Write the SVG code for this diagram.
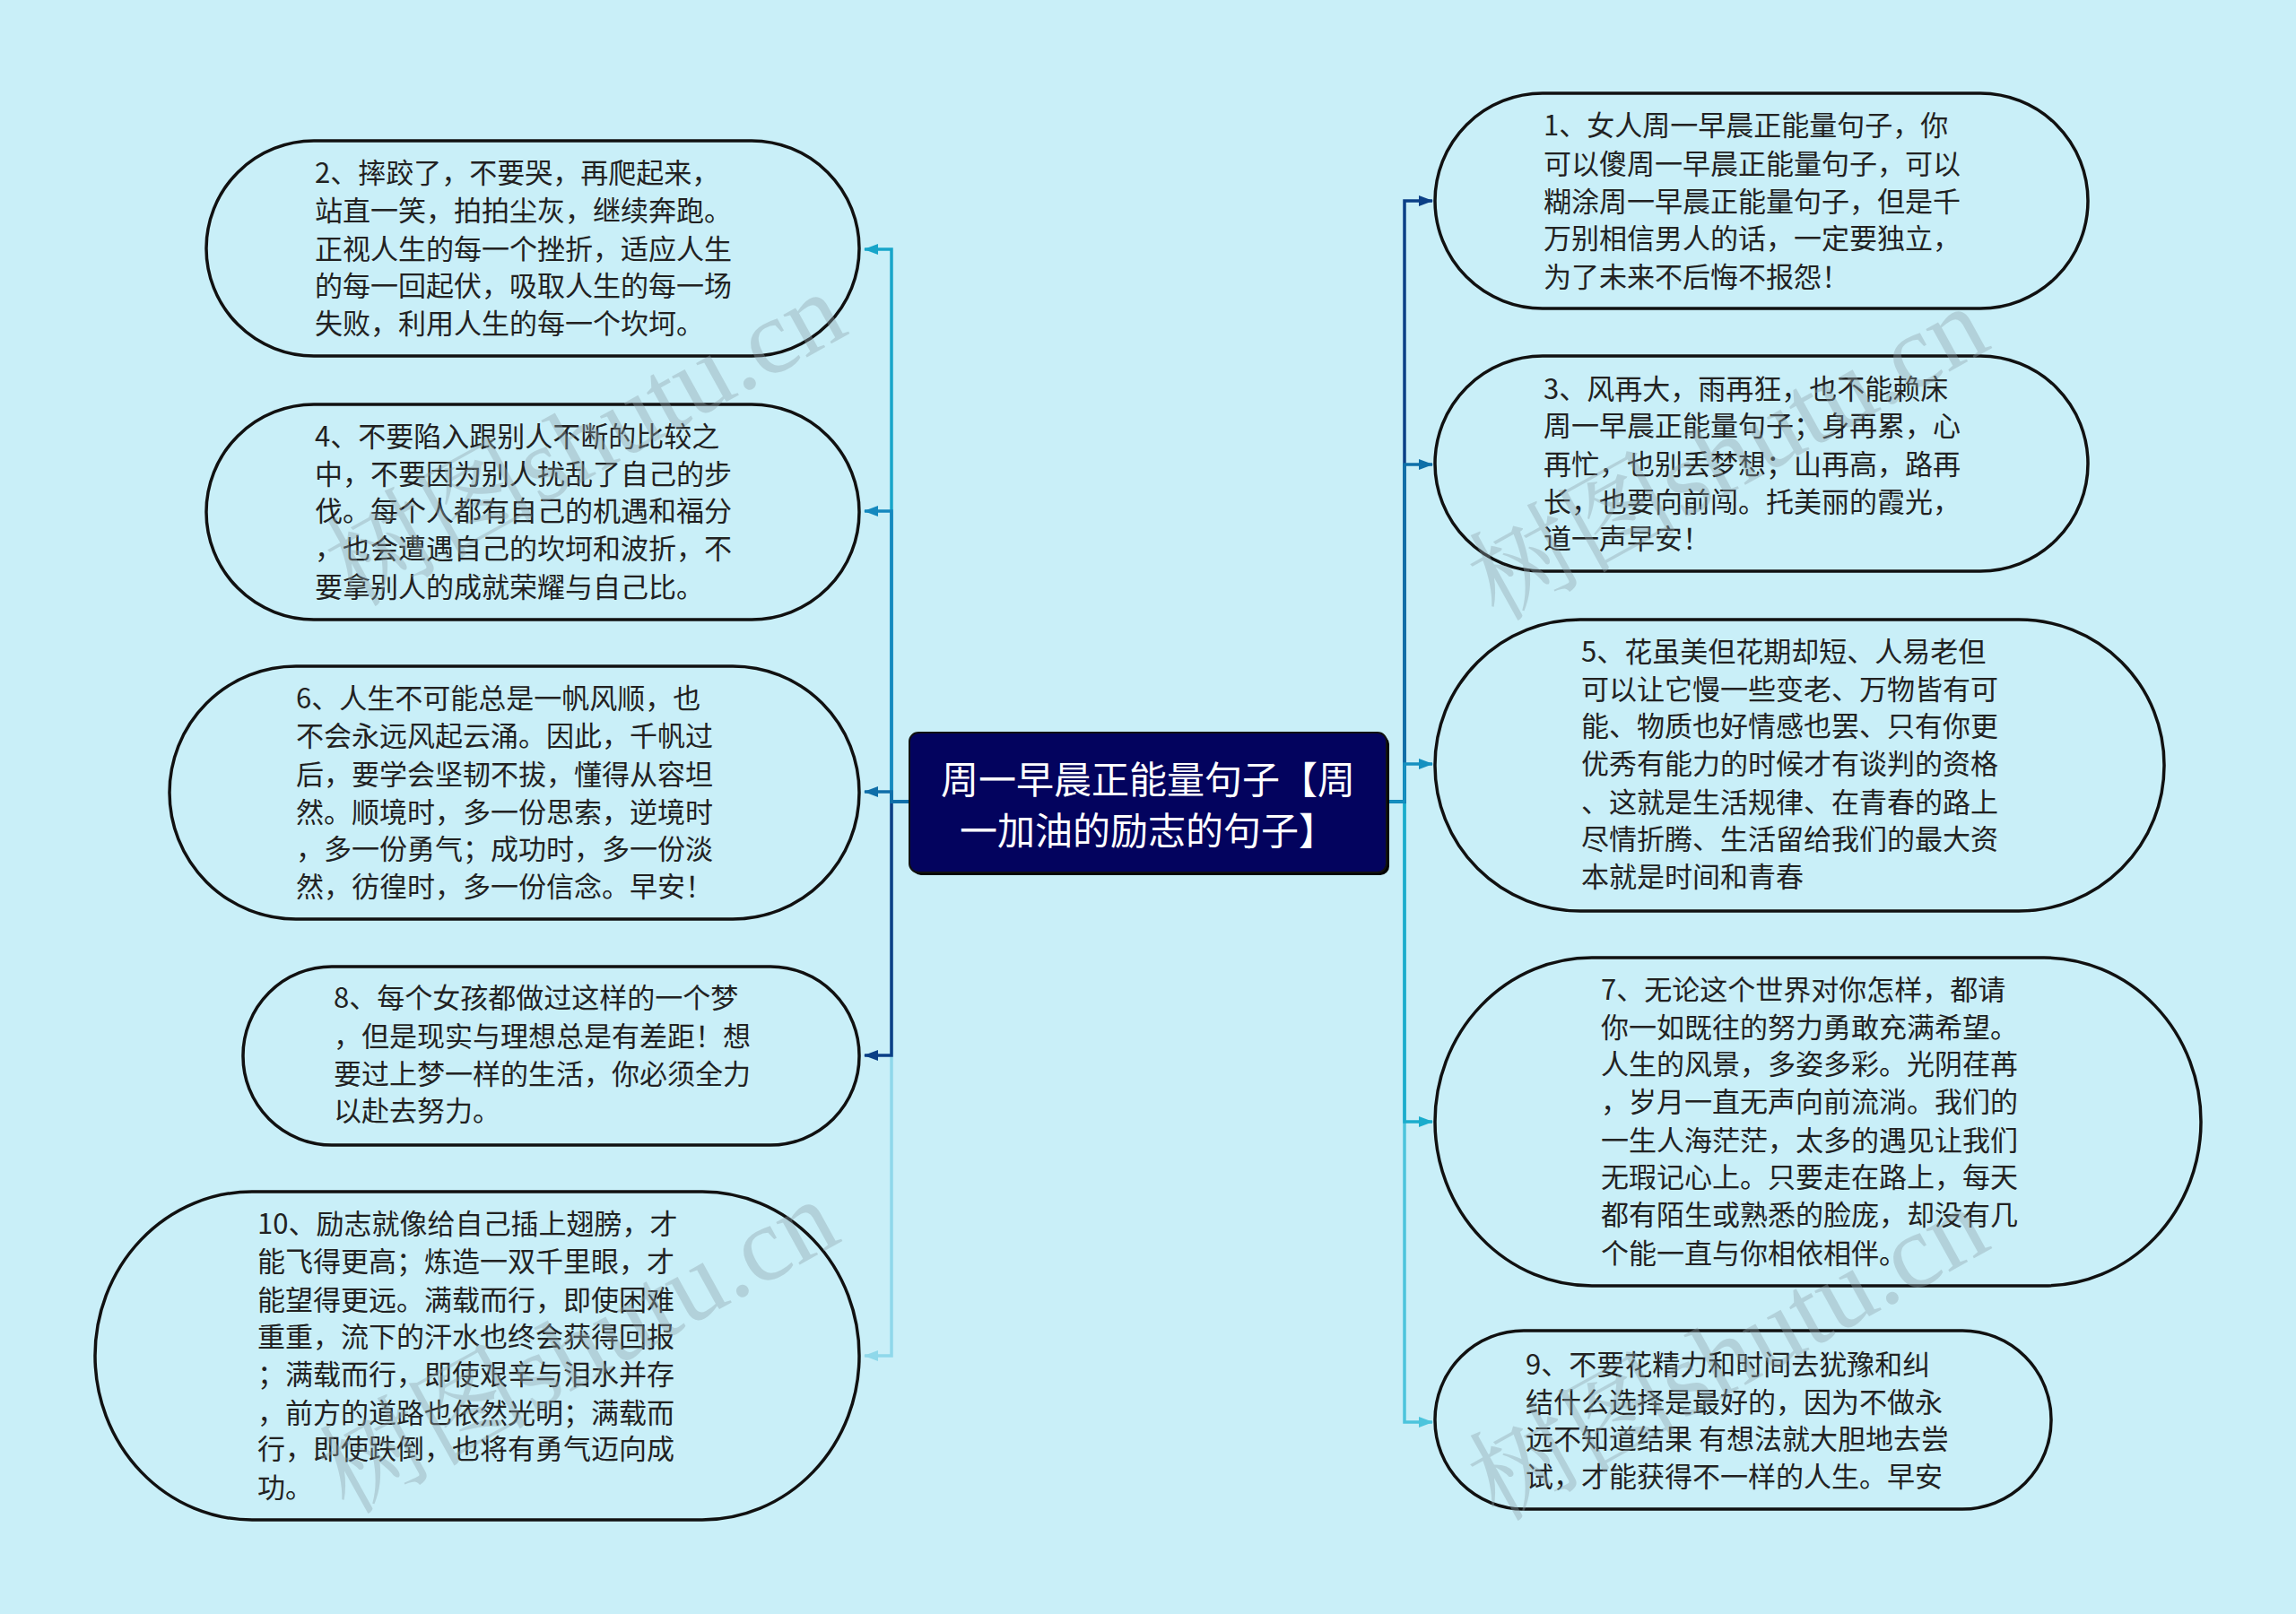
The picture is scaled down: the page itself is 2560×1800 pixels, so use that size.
<svg xmlns="http://www.w3.org/2000/svg" width="2560" height="1800" viewBox="0 0 2560 1800">
<defs>
<style>
.node{fill:#C9EFF8;stroke:#111;stroke-width:3.5}
.t{font-family:"Noto Sans CJK SC","Noto Sans",sans-serif;font-size:31px;fill:#222222;dominant-baseline:central}
.ct{font-family:"Noto Sans CJK SC","Noto Sans",sans-serif;font-size:42px;fill:#ffffff;dominant-baseline:central;text-anchor:middle}
.c{fill:none;stroke-width:3.5}
.wm{font-family:"Liberation Serif","Noto Serif CJK SC","Noto Sans CJK SC",serif;font-size:118px;fill:#8FA3AA;opacity:0.38}
</style>
<marker id="a1" markerWidth="16" markerHeight="12" refX="15" refY="6" orient="auto" markerUnits="userSpaceOnUse"><path d="M0,0 L16,6 L0,12 z" fill="#0B3F86"/></marker>
<marker id="a3" markerWidth="16" markerHeight="12" refX="15" refY="6" orient="auto" markerUnits="userSpaceOnUse"><path d="M0,0 L16,6 L0,12 z" fill="#0E6FA8"/></marker>
<marker id="a5" markerWidth="16" markerHeight="12" refX="15" refY="6" orient="auto" markerUnits="userSpaceOnUse"><path d="M0,0 L16,6 L0,12 z" fill="#1590C0"/></marker>
<marker id="a7" markerWidth="16" markerHeight="12" refX="15" refY="6" orient="auto" markerUnits="userSpaceOnUse"><path d="M0,0 L16,6 L0,12 z" fill="#1AACCC"/></marker>
<marker id="a9" markerWidth="16" markerHeight="12" refX="15" refY="6" orient="auto" markerUnits="userSpaceOnUse"><path d="M0,0 L16,6 L0,12 z" fill="#4CC4DC"/></marker>
<marker id="a2" markerWidth="16" markerHeight="12" refX="15" refY="6" orient="auto" markerUnits="userSpaceOnUse"><path d="M0,0 L16,6 L0,12 z" fill="#17A5C9"/></marker>
<marker id="a4" markerWidth="16" markerHeight="12" refX="15" refY="6" orient="auto" markerUnits="userSpaceOnUse"><path d="M0,0 L16,6 L0,12 z" fill="#1488BE"/></marker>
<marker id="a6" markerWidth="16" markerHeight="12" refX="15" refY="6" orient="auto" markerUnits="userSpaceOnUse"><path d="M0,0 L16,6 L0,12 z" fill="#0F6EA8"/></marker>
<marker id="a8" markerWidth="16" markerHeight="12" refX="15" refY="6" orient="auto" markerUnits="userSpaceOnUse"><path d="M0,0 L16,6 L0,12 z" fill="#0B3F86"/></marker>
<marker id="a10" markerWidth="16" markerHeight="12" refX="15" refY="6" orient="auto" markerUnits="userSpaceOnUse"><path d="M0,0 L16,6 L0,12 z" fill="#8FD8EA"/></marker>
</defs>
<rect x="0" y="0" width="2560" height="1800" fill="#C9EFF8"/>

<g id="connectors">
<path class="c" stroke="#8FD8EA" d="M1014,894 H994 V1512 H964" marker-end="url(#a10)"/>
<path class="c" stroke="#0B3F86" d="M1014,894 H994 V1177 H964" marker-end="url(#a8)"/>
<path class="c" stroke="#17A5C9" d="M1014,894 H994 V278 H964" marker-end="url(#a2)"/>
<path class="c" stroke="#1488BE" d="M1014,894 H994 V570 H964" marker-end="url(#a4)"/>
<path class="c" stroke="#0F6EA8" d="M1014,894 H994 V883 H964" marker-end="url(#a6)"/>
<path class="c" stroke="#4CC4DC" d="M1546,894 H1566 V1586 H1597" marker-end="url(#a9)"/>
<path class="c" stroke="#1AACCC" d="M1546,894 H1566 V1251 H1597" marker-end="url(#a7)"/>
<path class="c" stroke="#0B3F86" d="M1546,894 H1566 V224 H1597" marker-end="url(#a1)"/>
<path class="c" stroke="#0E6FA8" d="M1546,894 H1566 V518 H1597" marker-end="url(#a3)"/>
<path class="c" stroke="#1590C0" d="M1546,894 H1566 V852 H1597" marker-end="url(#a5)"/>
</g>

<g id="center">
<rect x="1017" y="820" width="532" height="156" rx="10" fill="#000"/>
<rect x="1014" y="817" width="532" height="156" rx="10" fill="#03035E" stroke="#111" stroke-width="2"/>
<text class="ct" x="1280"><tspan x="1280" y="866">周一早晨正能量句子【周</tspan><tspan x="1280" y="923">一加油的励志的句子】</tspan></text>
</g>

<g id="n2">
<rect class="node" x="230" y="157" width="728" height="240" rx="120"/>
<text class="t"><tspan x="351" y="190">2、摔跤了，不要哭，再爬起来，</tspan><tspan x="351" y="232">站直一笑，拍拍尘灰，继续奔跑。</tspan><tspan x="351" y="275">正视人生的每一个挫折，适应人生</tspan><tspan x="351" y="316">的每一回起伏，吸取人生的每一场</tspan><tspan x="351" y="358">失败，利用人生的每一个坎坷。</tspan></text>
</g>

<g id="n4">
<rect class="node" x="230" y="451" width="728" height="240" rx="120"/>
<text class="t"><tspan x="351" y="484">4、不要陷入跟别人不断的比较之</tspan><tspan x="351" y="526">中，不要因为别人扰乱了自己的步</tspan><tspan x="351" y="567">伐。每个人都有自己的机遇和福分</tspan><tspan x="351" y="609">，也会遭遇自己的坎坷和波折，不</tspan><tspan x="351" y="652">要拿别人的成就荣耀与自己比。</tspan></text>
</g>

<g id="n6">
<rect class="node" x="189" y="743" width="769" height="282" rx="141"/>
<text class="t"><tspan x="330" y="776">6、人生不可能总是一帆风顺，也</tspan><tspan x="330" y="818">不会永远风起云涌。因此，千帆过</tspan><tspan x="330" y="861">后，要学会坚韧不拔，懂得从容坦</tspan><tspan x="330" y="903">然。顺境时，多一份思索，逆境时</tspan><tspan x="330" y="944">，多一份勇气；成功时，多一份淡</tspan><tspan x="330" y="986">然，彷徨时，多一份信念。早安！</tspan></text>
</g>

<g id="n8">
<rect class="node" x="271" y="1078" width="687" height="199" rx="99"/>
<text class="t"><tspan x="372" y="1110">8、每个女孩都做过这样的一个梦</tspan><tspan x="372" y="1153">，但是现实与理想总是有差距！想</tspan><tspan x="372" y="1195">要过上梦一样的生活，你必须全力</tspan><tspan x="372" y="1236">以赴去努力。</tspan></text>
</g>

<g id="n10">
<rect class="node" x="106" y="1329" width="852" height="366" rx="175" ry="183"/>
<text class="t"><tspan x="287" y="1362">10、励志就像给自己插上翅膀，才</tspan><tspan x="287" y="1404">能飞得更高；炼造一双千里眼，才</tspan><tspan x="287" y="1447">能望得更远。满载而行，即使困难</tspan><tspan x="287" y="1488">重重，流下的汗水也终会获得回报</tspan><tspan x="287" y="1530">；满载而行，即使艰辛与泪水并存</tspan><tspan x="287" y="1573">，前方的道路也依然光明；满载而</tspan><tspan x="287" y="1613">行，即使跌倒，也将有勇气迈向成</tspan><tspan x="287" y="1656">功。</tspan></text>
</g>

<g id="n1">
<rect class="node" x="1600" y="104" width="728" height="240" rx="120"/>
<text class="t"><tspan x="1721" y="137">1、女人周一早晨正能量句子，你</tspan><tspan x="1721" y="180">可以傻周一早晨正能量句子，可以</tspan><tspan x="1721" y="222">糊涂周一早晨正能量句子，但是千</tspan><tspan x="1721" y="263">万别相信男人的话，一定要独立，</tspan><tspan x="1721" y="306">为了未来不后悔不报怨！</tspan></text>
</g>

<g id="n3">
<rect class="node" x="1600" y="397" width="728" height="240" rx="120"/>
<text class="t"><tspan x="1721" y="431">3、风再大，雨再狂，也不能赖床</tspan><tspan x="1721" y="472">周一早晨正能量句子；身再累，心</tspan><tspan x="1721" y="515">再忙，也别丢梦想；山再高，路再</tspan><tspan x="1721" y="557">长，也要向前闯。托美丽的霞光，</tspan><tspan x="1721" y="598">道一声早安！</tspan></text>
</g>

<g id="n5">
<rect class="node" x="1600" y="691" width="813" height="325" rx="162"/>
<text class="t"><tspan x="1763" y="724">5、花虽美但花期却短、人易老但</tspan><tspan x="1763" y="766">可以让它慢一些变老、万物皆有可</tspan><tspan x="1763" y="807">能、物质也好情感也罢、只有你更</tspan><tspan x="1763" y="849">优秀有能力的时候才有谈判的资格</tspan><tspan x="1763" y="892">、这就是生活规律、在青春的路上</tspan><tspan x="1763" y="933">尽情折腾、生活留给我们的最大资</tspan><tspan x="1763" y="975">本就是时间和青春</tspan></text>
</g>

<g id="n7">
<rect class="node" x="1600" y="1068" width="854" height="366" rx="175" ry="183"/>
<text class="t"><tspan x="1785" y="1101">7、无论这个世界对你怎样，都请</tspan><tspan x="1785" y="1143">你一如既往的努力勇敢充满希望。</tspan><tspan x="1785" y="1184">人生的风景，多姿多彩。光阴荏苒</tspan><tspan x="1785" y="1226">，岁月一直无声向前流淌。我们的</tspan><tspan x="1785" y="1269">一生人海茫茫，太多的遇见让我们</tspan><tspan x="1785" y="1310">无瑕记心上。只要走在路上，每天</tspan><tspan x="1785" y="1352">都有陌生或熟悉的脸庞，却没有几</tspan><tspan x="1785" y="1395">个能一直与你相依相伴。</tspan></text>
</g>

<g id="n9">
<rect class="node" x="1600" y="1484" width="687" height="199" rx="99"/>
<text class="t"><tspan x="1701" y="1519">9、不要花精力和时间去犹豫和纠</tspan><tspan x="1701" y="1561">结什么选择是最好的，因为不做永</tspan><tspan x="1701" y="1602">远不知道结果 有想法就大胆地去尝</tspan><tspan x="1701" y="1644">试，才能获得不一样的人生。早安</tspan></text>
</g>

<g id="watermarks">
<text class="wm" transform="translate(653,490) rotate(-29)" text-anchor="middle" dominant-baseline="central">树图shutu.cn</text>
<text class="wm" transform="translate(1927,506) rotate(-29)" text-anchor="middle" dominant-baseline="central">树图shutu.cn</text>
<text class="wm" transform="translate(645,1502) rotate(-29)" text-anchor="middle" dominant-baseline="central">树图shutu.cn</text>
<text class="wm" transform="translate(1927,1510) rotate(-29)" text-anchor="middle" dominant-baseline="central">树图shutu.cn</text>
</g>
</svg>
